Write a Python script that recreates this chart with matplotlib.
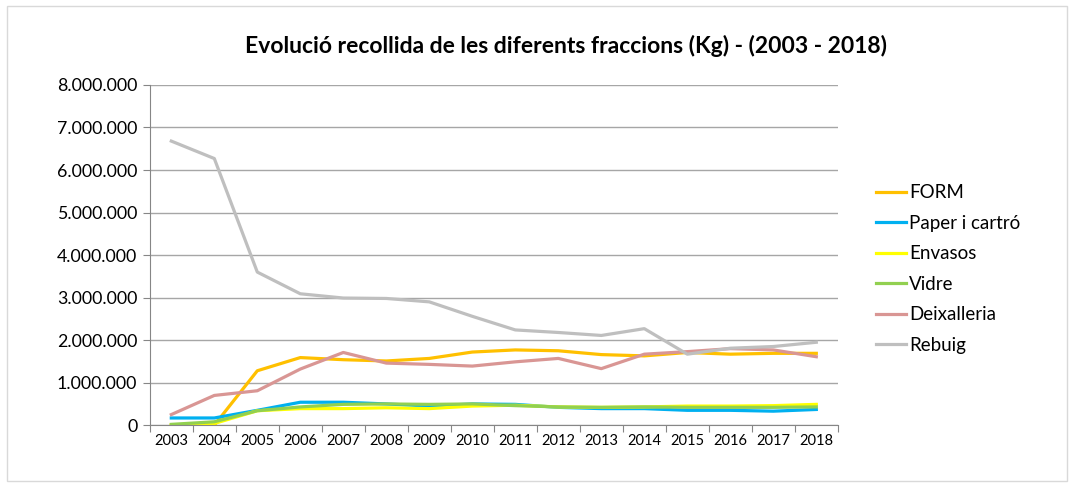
import matplotlib.pyplot as plt
import matplotlib.ticker as ticker
import numpy as np

plt.rcParams["font.family"] = ["Lato", "DejaVu Sans"]

OUT_FILE = "out.png"

years = [str(y) for y in range(2003, 2019)]

form = [0.0, 0.0, 1.28, 1.59, 1.54, 1.51, 1.57, 1.72, 1.77, 1.75, 1.66, 1.63, 1.71, 1.67, 1.69, 1.69]
paper = [0.17, 0.17, 0.35, 0.54, 0.54, 0.50, 0.45, 0.50, 0.49, 0.42, 0.39, 0.39, 0.35, 0.35, 0.33, 0.37]
envasos = [0.0, 0.04, 0.34, 0.39, 0.39, 0.41, 0.39, 0.45, 0.47, 0.43, 0.42, 0.43, 0.45, 0.45, 0.46, 0.49]
vidre = [0.02, 0.08, 0.34, 0.43, 0.49, 0.50, 0.49, 0.50, 0.46, 0.43, 0.42, 0.43, 0.42, 0.42, 0.42, 0.43]
deixalleria = [0.25, 0.70, 0.81, 1.32, 1.71, 1.46, 1.43, 1.39, 1.49, 1.57, 1.33, 1.67, 1.73, 1.80, 1.77, 1.61]
rebuig = [6.68, 6.27, 3.60, 3.09, 2.99, 2.98, 2.90, 2.56, 2.24, 2.18, 2.11, 2.27, 1.67, 1.81, 1.85, 1.95]

series = [
    ("FORM", form, "#FFC000"),
    ("Paper i cartró", paper, "#00B0F0"),
    ("Envasos", envasos, "#FFFF00"),
    ("Vidre", vidre, "#92D050"),
    ("Deixalleria", deixalleria, "#D99694"),
    ("Rebuig", rebuig, "#BFBFBF"),
]


def thousands(v, _pos):
    return f"{int(round(v)):,}".replace(",", ".")


fig = plt.figure(figsize=(10.7, 4.91), dpi=100)
# outer chart border
fig.patches.append(plt.Rectangle((0.007, 0.02), 0.99, 0.968, transform=fig.transFigure,
                                 fill=False, ec="#D9D9D9", lw=1))
ax = fig.add_axes([0.140, 0.134, 0.643, 0.693])

x = np.arange(len(years))
for name, vals, color in series:
    ax.plot(x, np.array(vals) * 1e6, color=color, lw=2.3, label=name, solid_joinstyle="round")

ax.set_ylim(0, 8e6)
ax.set_xlim(-0.5, len(years) - 0.5)
ax.yaxis.set_major_locator(ticker.MultipleLocator(1e6))
ax.yaxis.set_major_formatter(ticker.FuncFormatter(thousands))
ax.grid(axis="y", color="#A6A6A6", lw=1)
ax.set_axisbelow(True)

ax.set_xticks(np.arange(-0.5, len(years), 1.0))
ax.set_xticklabels([])
ax.set_xticks(x, minor=True)
ax.set_xticklabels(years, minor=True)
ax.tick_params(axis="x", which="major", length=5, color="#868686")
ax.tick_params(axis="x", which="minor", length=0, labelsize=10.5, pad=6)
ax.tick_params(axis="y", length=5, color="#868686", labelsize=12.8, pad=4)

for side in ["top", "right"]:
    ax.spines[side].set_visible(False)
for side in ["left", "bottom"]:
    ax.spines[side].set_color("#868686")

fig.text(0.529, 0.907, "Evolució recollida de les diferents fraccions (Kg) - (2003 - 2018)",
         ha="center", va="center", fontsize=16.5, fontweight="bold")

fig.legend(loc="center left", bbox_to_anchor=(0.803, 0.452), frameon=False,
           fontsize=13.5, handlelength=1.6, handletextpad=0.15, labelspacing=0.72)

fig.savefig(OUT_FILE, dpi=100)
